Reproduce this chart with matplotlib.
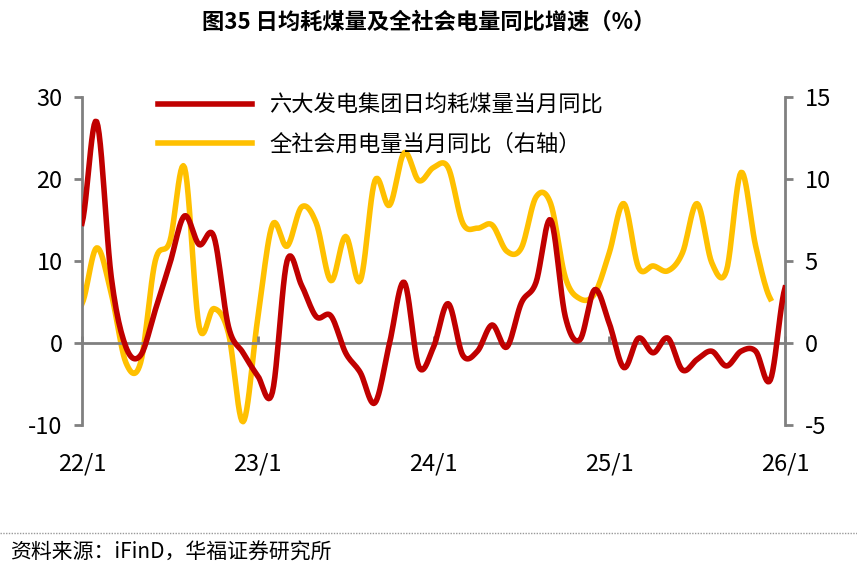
import numpy as np
import matplotlib
matplotlib.use("Agg")
import matplotlib.pyplot as plt
import matplotlib.transforms as mtransforms

plt.rcParams['font.family'] = ['Noto Sans CJK SC', 'DejaVu Sans']
plt.rcParams['axes.unicode_minus'] = False

coal_yoy = [14.6, 27, 8, -0.5, -1.5, 4, 9.7, 15.5, 12, 13, 2, -1.2, -4, -6, 10, 7, 3.2, 3.3,
            -1.2, -3.6, -7.3, 0, 7.4, -2.9, -0.5, 4.8, -1.5, -1, 2.2, -0.5, 4.9, 7.4, 15, 3.2,
            0.4, 6.5, 2.4, -3, 0.6, -1.2, 0.6, -3.3, -2, -1, -2.8, -1, -1, -4.5, 6.7]
power_yoy = [2.4, 5.8, 3, -1.2, -1.2, 5, 6.2, 10.7, 1, 2.1, 0.6, -4.8, 1.5, 7.2, 5.9, 8.3, 7.3,
             3.8, 6.5, 3.8, 9.9, 8.4, 11.6, 9.9, 10.7, 10.7, 7.3, 7, 7.2, 5.6, 5.8, 8.9, 8.5, 4,
             2.7, 3, 5.5, 8.5, 4.6, 4.7, 4.4, 5.5, 8.5, 4.9, 4.4, 10.4, 5.9, 2.7]
tick_labels = ['22/1', '23/1', '24/1', '25/1', '26/1']
tick_months = [0, 12, 24, 36, 48]
series_names = ['六大发电集团日均耗煤量当月同比', '全社会用电量当月同比（右轴）']


def smooth(y, n=12):
    y = np.asarray(y, float)
    p = np.concatenate([[y[0]], y, [y[-1]]])
    xs, ys = [], []
    for i in range(len(y) - 1):
        p0, p1, p2, p3 = p[i], p[i + 1], p[i + 2], p[i + 3]
        t = np.linspace(0, 1, n, endpoint=False)
        v = 0.5 * ((2 * p1) + (-p0 + p2) * t + (2 * p0 - 5 * p1 + 4 * p2 - p3) * t ** 2
                   + (-p0 + 3 * p1 - 3 * p2 + p3) * t ** 3)
        xs.extend(i + t)
        ys.extend(v)
    xs.append(len(y) - 1)
    ys.append(y[-1])
    return np.array(xs), np.array(ys)


fig = plt.figure(figsize=(8.57, 5.77), dpi=100)
ax = fig.add_axes([82 / 857, 1 - 425 / 577, (785 - 82) / 857, (425 - 97) / 577])
ax2 = ax.twinx()

red = '#C00000'
yel = '#FFC000'
x1, y1 = smooth(coal_yoy)
x2, y2 = smooth(power_yoy)
l1, = ax.plot(x1, y1, color=red, lw=4, zorder=3)
l2, = ax2.plot(x2, y2, color=yel, lw=4, zorder=2)
ax.set_zorder(ax2.get_zorder() + 1)
ax.patch.set_visible(False)

ax.set_xlim(0, 48)
ax.set_ylim(-10, 30)
ax2.set_ylim(-5, 15)
ax.set_yticks([-10, 0, 10, 20, 30])
ax2.set_yticks([-5, 0, 5, 10, 15])

grey = '#808080'
for a in (ax, ax2):
    for s in a.spines.values():
        s.set_visible(False)
ax.spines['left'].set_visible(True)
ax.spines['left'].set_color(grey)
ax.spines['left'].set_linewidth(2)
ax2.spines['right'].set_visible(True)
ax2.spines['right'].set_color(grey)
ax2.spines['right'].set_linewidth(2)
ax.spines['bottom'].set_visible(True)
ax.spines['bottom'].set_position(('data', 0))
ax.spines['bottom'].set_color(grey)
ax.spines['bottom'].set_linewidth(2)
ax.set_xticks(tick_months)
ax.set_xticklabels([''] * len(tick_months))
ax.tick_params(axis='x', direction='in', length=5, color=grey, width=2)
ax.tick_params(axis='y', direction='out', length=6, color=grey, width=2, labelsize=17, pad=8)
ax2.tick_params(axis='y', direction='out', length=6, color=grey, width=2, labelsize=17, pad=8)

trans = mtransforms.blended_transform_factory(ax.transData, ax.transAxes)
for m, lab in zip(tick_months, tick_labels):
    ax.text(m, -0.12, lab, transform=trans, ha='center', va='center', fontsize=17)

leg = ax.legend([l1, l2], series_names, loc='upper left', bbox_to_anchor=(0.08, 1.07),
                frameon=False, fontsize=16, handlelength=4.2, labelspacing=0.7)
for t in leg.get_texts():
    t.set_fontproperties(matplotlib.font_manager.FontProperties(family=['Noto Sans CJK SC'], size=16))

fig.text(0.5, 1 - 22 / 577, '图35 日均耗煤量及全社会电量同比增速（%）', ha='center', va='center',
         fontsize=16, fontweight='bold', style='italic')
fig.add_artist(plt.Line2D([0, 1], [1 - 533 / 577] * 2, color='#999999', lw=1, ls=(0, (1, 1))))
fig.text(0.012, 1 - 553 / 577, '资料来源：iFinD，华福证券研究所', ha='left', va='center',
         fontsize=15, style='italic')

fig.savefig('out.png', dpi=100)
